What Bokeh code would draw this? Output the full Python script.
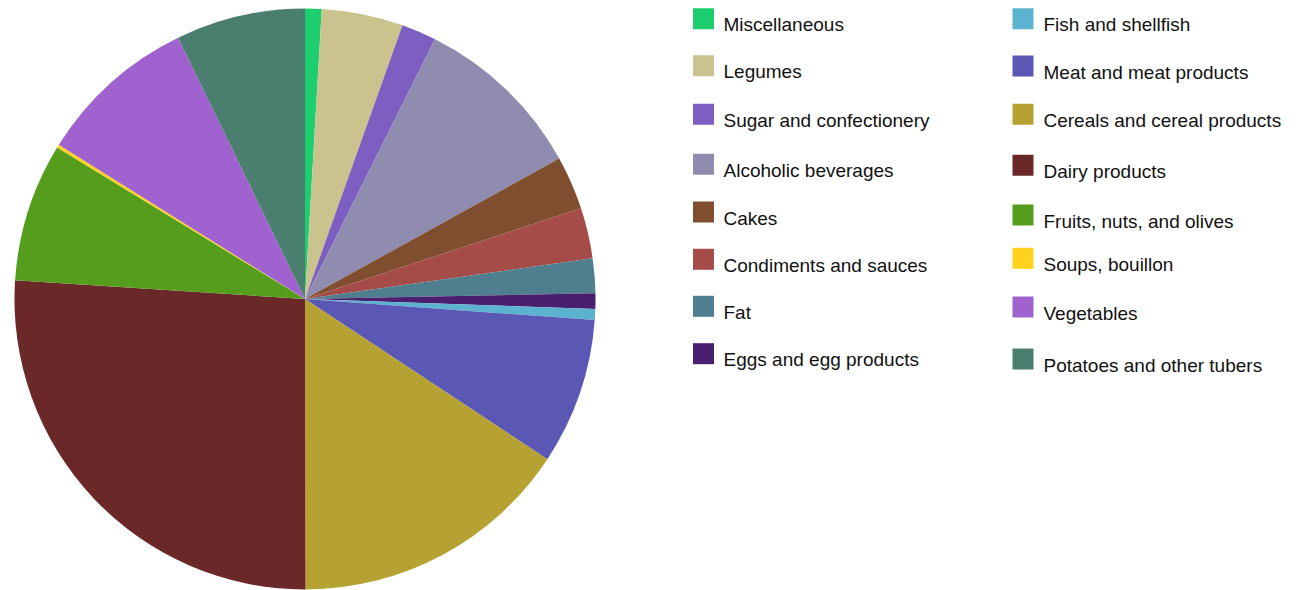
import math
from bokeh.plotting import figure
from bokeh.models import Range1d, ColumnDataSource
from bokeh.core.properties import value
from bokeh.embed import file_html
from bokeh.resources import INLINE

# ---- data (share of total, %) ----
categories = [
    "Miscellaneous", "Legumes", "Sugar and confectionery", "Alcoholic beverages",
    "Cakes", "Condiments and sauces", "Fat", "Eggs and egg products",
    "Fish and shellfish", "Meat and meat products", "Cereals and cereal products",
    "Dairy products", "Fruits, nuts, and olives", "Soups, bouillon",
    "Vegetables", "Potatoes and other tubers",
]
shares = [0.92, 4.53, 1.94, 9.58, 2.99, 2.81, 1.93, 0.86,
          0.61, 8.14, 15.69, 26.06, 7.71, 0.18, 8.90, 7.20]
colors = ["#1dce6f", "#cbc38d", "#7d5fc2", "#8f8cb0", "#7f4e2e", "#a54b48",
          "#4f7f8e", "#4b1f6f", "#5cb3cf", "#5b58b5", "#b5a233", "#6a2829",
          "#559e1d", "#ffd21e", "#a062ce", "#4a7f70"]

# ---- layout ----
W, H = 1303, 590
OFF = 0


def sx(px):  # screen x -> data x
    return px - OFF


def sy(py):  # screen y -> data y
    return (H + OFF) - py


total = sum(shares)
starts, ends = [], []
acc = 0.0
for s in shares:
    a0 = acc / total
    acc += s
    a1 = acc / total
    # clockwise from 12 o'clock
    starts.append(math.pi / 2 - a1 * 2 * math.pi)
    ends.append(math.pi / 2 - a0 * 2 * math.pi)

cx, cy, R = sx(304.5), sy(298.5), 290.5

p = figure(width=W, height=H, output_backend="svg", toolbar_location=None,
           x_range=Range1d(0, W), y_range=Range1d(0, H),
           min_border=0, outline_line_color=None)
p.axis.visible = False
p.grid.visible = False
p.background_fill_color = "white"
p.border_fill_color = "white"

pie = ColumnDataSource(dict(start=starts, end=ends, color=colors, name=categories))
p.wedge(x=cx, y=cy, radius=R, start_angle="start", end_angle="end",
        direction="anticlock", fill_color="color", line_color=None, source=pie)

# legend (two columns of 8)
left_tops = [7.7, 54.7, 103.3, 153.3, 201, 248.3, 295.3, 342.7]
right_tops = [7.7, 55, 103.3, 154.3, 204, 247.3, 296, 348]
sq = 21
lx_sq, lx_txt = 692.5, 723
rx_sq, rx_txt = 1012, 1043

lg_x, lg_y, lg_c, tx_x, tx_y, tx_t = [], [], [], [], [], []
for i, name in enumerate(categories):
    if i < 8:
        top, xs, xt = left_tops[i], lx_sq, lx_txt
    else:
        top, xs, xt = right_tops[i - 8], rx_sq, rx_txt
    lg_x.append(sx(xs + sq / 2))
    lg_y.append(sy(top + sq / 2))
    lg_c.append(colors[i])
    tx_x.append(sx(xt))
    tx_y.append(sy(top + 16.5))
    tx_t.append(name)

p.rect(x=lg_x, y=lg_y, width=sq, height=sq, fill_color=lg_c, line_color=None)
p.text(x=tx_x, y=tx_y, text=tx_t, text_font=value("Liberation Sans"),
       text_font_size="19px", text_color="#111111",
       text_baseline="alphabetic", text_align="left")

open("out.html", "w").write(file_html(p, INLINE))
